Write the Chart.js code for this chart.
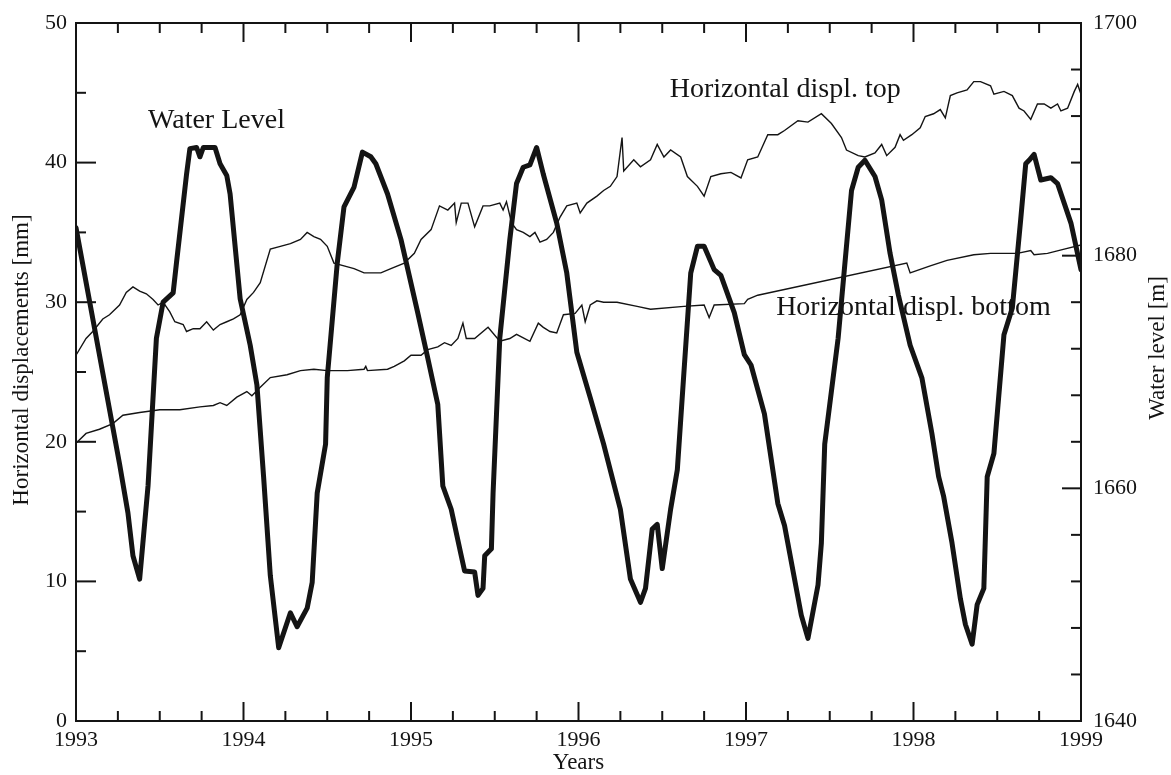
<!DOCTYPE html>
<html>
<head>
<meta charset="utf-8">
<title>Water level and horizontal displacements</title>
<script src="https://cdn.jsdelivr.net/npm/chart.js@4.4.0/dist/chart.umd.min.js"></script>
<style>
  html, body { margin: 0; padding: 0; background: #ffffff; }
  #wrap { width: 1171px; height: 775px; }
</style>
</head>
<body>
<div id="wrap"><canvas id="chart" width="1171" height="775"></canvas></div>
<script>
// Water level (right axis, m)
const wlYears = [1993.00, 1993.26, 1993.31, 1993.34, 1993.38, 1993.43, 1993.48, 1993.52, 1993.58, 1993.60,
  1993.66, 1993.68, 1993.72, 1993.74, 1993.76, 1993.83, 1993.86, 1993.90, 1993.92, 1993.98,
  1994.04, 1994.08, 1994.12, 1994.16, 1994.21, 1994.28, 1994.32, 1994.38, 1994.41, 1994.44,
  1994.49, 1994.50, 1994.56, 1994.60, 1994.66, 1994.71, 1994.76, 1994.79, 1994.86, 1994.94,
  1995.04, 1995.10, 1995.16, 1995.19, 1995.24, 1995.30, 1995.32, 1995.38, 1995.40, 1995.43,
  1995.44, 1995.48, 1995.49, 1995.53, 1995.59, 1995.63, 1995.67, 1995.71, 1995.75, 1995.79,
  1995.87, 1995.93, 1995.99, 1996.07, 1996.15, 1996.25, 1996.31, 1996.37, 1996.40, 1996.44,
  1996.47, 1996.50, 1996.55, 1996.59, 1996.63, 1996.67, 1996.71, 1996.75, 1996.81, 1996.85,
  1996.93, 1996.99, 1997.03, 1997.11, 1997.19, 1997.23, 1997.33, 1997.37, 1997.43, 1997.45,
  1997.47, 1997.55, 1997.63, 1997.67, 1997.71, 1997.77, 1997.81, 1997.86, 1997.91, 1997.98,
  1998.05, 1998.11, 1998.15, 1998.18, 1998.23, 1998.28, 1998.31, 1998.35, 1998.38, 1998.42,
  1998.44, 1998.48, 1998.54, 1998.59, 1998.64, 1998.67, 1998.69, 1998.72, 1998.76, 1998.82,
  1998.86, 1998.94, 1999.00];
const wlLevel = [1682.4, 1662.1, 1657.9, 1654.2, 1652.2, 1660.2, 1672.9, 1676.0, 1676.8, 1679.4,
  1687.0, 1689.2, 1689.3, 1688.5, 1689.3, 1689.3, 1687.9, 1686.9, 1685.3, 1676.3,
  1672.3, 1668.9, 1661.0, 1652.5, 1646.3, 1649.3, 1648.1, 1649.7, 1651.9, 1659.6,
  1663.8, 1669.5, 1679.4, 1684.2, 1685.9, 1688.9, 1688.5, 1687.9, 1685.3, 1681.4,
  1675.1, 1671.2, 1667.2, 1660.2, 1658.2, 1654.2, 1652.9, 1652.8, 1650.8, 1651.4,
  1654.2, 1654.8, 1659.6, 1672.9, 1681.4, 1686.2, 1687.6, 1687.8, 1689.3, 1687.0,
  1682.8, 1678.5, 1671.7, 1667.8, 1663.8, 1658.2, 1652.2, 1650.2, 1651.4, 1656.5,
  1656.9, 1653.1, 1658.2, 1661.6, 1670.1, 1678.5, 1680.8, 1680.8, 1678.8, 1678.3,
  1675.1, 1671.5, 1670.6, 1666.4, 1658.7, 1656.8, 1649.1, 1647.1, 1651.7, 1655.3,
  1663.8, 1672.9, 1685.6, 1687.6, 1688.2, 1686.8, 1684.8, 1680.2, 1676.6, 1672.3,
  1669.5, 1664.7, 1661.0, 1659.3, 1655.3, 1650.5, 1648.3, 1646.6, 1650.0, 1651.4,
  1661.0, 1663.0, 1673.2, 1675.5, 1683.1, 1687.9, 1688.2, 1688.7, 1686.5, 1686.7,
  1686.2, 1682.8, 1678.8];

// Horizontal displacement, top (left axis, mm)
const topYears = [1993.00, 1993.06, 1993.10, 1993.16, 1993.20, 1993.26, 1993.30, 1993.34, 1993.38, 1993.42,
  1993.46, 1993.49, 1993.52, 1993.56, 1993.59, 1993.64, 1993.66, 1993.70, 1993.74, 1993.78,
  1993.82, 1993.86, 1993.90, 1993.94, 1993.98, 1994.02, 1994.06, 1994.10, 1994.16, 1994.22,
  1994.28, 1994.34, 1994.38, 1994.42, 1994.46, 1994.50, 1994.54, 1994.60, 1994.66, 1994.72,
  1994.76, 1994.82, 1994.88, 1994.96, 1995.02, 1995.06, 1995.12, 1995.17, 1995.22, 1995.26,
  1995.27, 1995.30, 1995.34, 1995.38, 1995.43, 1995.47, 1995.53, 1995.55, 1995.57, 1995.60,
  1995.63, 1995.67, 1995.71, 1995.74, 1995.77, 1995.81, 1995.85, 1995.89, 1995.93, 1995.99,
  1996.01, 1996.05, 1996.11, 1996.15, 1996.19, 1996.23, 1996.26, 1996.27, 1996.33, 1996.37,
  1996.43, 1996.47, 1996.51, 1996.55, 1996.61, 1996.65, 1996.71, 1996.75, 1996.79, 1996.85,
  1996.91, 1996.97, 1997.01, 1997.07, 1997.13, 1997.19, 1997.23, 1997.31, 1997.37, 1997.45,
  1997.51, 1997.57, 1997.60, 1997.67, 1997.71, 1997.77, 1997.81, 1997.84, 1997.89, 1997.92,
  1997.94, 1997.99, 1998.04, 1998.07, 1998.12, 1998.16, 1998.19, 1998.22, 1998.26, 1998.32,
  1998.36, 1998.40, 1998.46, 1998.48, 1998.54, 1998.59, 1998.63, 1998.66, 1998.70, 1998.74,
  1998.78, 1998.82, 1998.86, 1998.88, 1998.92, 1998.96, 1998.98, 1999.00];
const topDisp = [26.2, 27.4, 27.9, 28.8, 29.1, 29.8, 30.7, 31.1, 30.8, 30.6,
  30.2, 29.8, 30.0, 29.3, 28.6, 28.4, 27.9, 28.1, 28.1, 28.6,
  28.0, 28.4, 28.6, 28.8, 29.1, 30.2, 30.7, 31.4, 33.8, 34.0,
  34.2, 34.5, 35.0, 34.7, 34.5, 34.0, 32.8, 32.6, 32.4, 32.1,
  32.1, 32.1, 32.4, 32.8, 33.5, 34.5, 35.2, 36.9, 36.6, 37.1,
  35.7, 37.1, 37.1, 35.4, 36.9, 36.9, 37.1, 36.6, 37.2, 35.7,
  35.2, 35.0, 34.7, 35.0, 34.3, 34.5, 35.0, 36.1, 36.9, 37.1,
  36.4, 37.1, 37.6, 38.0, 38.3, 39.0, 41.8, 39.4, 40.2, 39.7,
  40.2, 41.3, 40.4, 40.9, 40.4, 39.0, 38.3, 37.6, 39.0, 39.2,
  39.3, 38.9, 40.2, 40.4, 42.0, 42.0, 42.3, 43.0, 42.9, 43.5,
  42.8, 41.8, 40.9, 40.5, 40.4, 40.7, 41.3, 40.5, 41.1, 42.0,
  41.6, 42.0, 42.5, 43.3, 43.5, 43.8, 43.2, 44.8, 45.0, 45.2,
  45.8, 45.8, 45.5, 44.9, 45.1, 44.8, 43.9, 43.7, 43.1, 44.2,
  44.2, 43.9, 44.2, 43.7, 43.9, 45.1, 45.6, 44.9];

// Horizontal displacement, bottom (left axis, mm)
const botYears = [1993.00, 1993.06, 1993.14, 1993.22, 1993.28, 1993.38, 1993.50, 1993.62, 1993.74, 1993.82,
  1993.86, 1993.90, 1993.96, 1994.02, 1994.05, 1994.10, 1994.16, 1994.26, 1994.34, 1994.42,
  1994.50, 1994.62, 1994.72, 1994.73, 1994.74, 1994.86, 1994.90, 1994.96, 1995.00, 1995.06,
  1995.10, 1995.16, 1995.20, 1995.24, 1995.28, 1995.31, 1995.33, 1995.38, 1995.46, 1995.53,
  1995.59, 1995.63, 1995.71, 1995.76, 1995.79, 1995.83, 1995.87, 1995.91, 1995.98, 1996.02,
  1996.04, 1996.07, 1996.11, 1996.15, 1996.23, 1996.35, 1996.43, 1996.63, 1996.75, 1996.78,
  1996.81, 1996.99, 1997.01, 1997.07, 1997.96, 1997.98, 1998.10, 1998.20, 1998.36, 1998.46,
  1998.62, 1998.70, 1998.72, 1998.80, 1998.90, 1999.00];
const botDisp = [19.9, 20.6, 20.9, 21.3, 21.9, 22.1, 22.3, 22.3, 22.5, 22.6,
  22.8, 22.6, 23.2, 23.6, 23.3, 23.9, 24.6, 24.8, 25.1, 25.2,
  25.1, 25.1, 25.2, 25.4, 25.1, 25.2, 25.4, 25.8, 26.2, 26.2,
  26.6, 26.8, 27.1, 26.9, 27.4, 28.5, 27.4, 27.4, 28.2, 27.2,
  27.4, 27.7, 27.2, 28.5, 28.2, 27.9, 27.8, 29.1, 29.2, 29.8,
  28.6, 29.8, 30.1, 30.0, 30.0, 29.7, 29.5, 29.7, 29.8, 28.9,
  29.8, 29.9, 30.2, 30.5, 32.8, 32.1, 32.6, 33.0, 33.4, 33.5,
  33.5, 33.7, 33.4, 33.5, 33.8, 34.1];

// Axis ticks
const yearTicks = [1993, 1994, 1995, 1996, 1997, 1998, 1999];
const dispTicks = [0, 10, 20, 30, 40, 50];
const levelTicks = [1640, 1650, 1660, 1670, 1680, 1690, 1700];

// Curve labels: [text, year, mm]
const curveLabels = [
  ['Water Level', 1993.43, 43.0],
  ['Horizontal displ. top', 1996.545, 45.2],
  ['Horizontal displ. bottom', 1997.18, 29.6]
];

const ink = '#141414';
const serif = "'Liberation Serif', 'DejaVu Serif', serif";

function zip(xs, ys) {
  return xs.map((x, i) => ({ x: x, y: ys[i] }));
}

// frame, inward ticks, axis titles and curve labels
const decorations = {
  id: 'decorations',
  afterDraw(chart) {
    const { ctx, chartArea: a, scales } = chart;
    ctx.save();
    ctx.strokeStyle = ink;
    ctx.lineWidth = 2;
    ctx.lineCap = 'butt';
    ctx.strokeRect(a.left, a.top, a.right - a.left, a.bottom - a.top);

    function seg(x1, y1, x2, y2) {
      ctx.beginPath();
      ctx.moveTo(x1, y1);
      ctx.lineTo(x2, y2);
      ctx.stroke();
    }

    scales.x.ticks.forEach(t => {
      const px = scales.x.getPixelForValue(t.value);
      const len = yearTicks.includes(t.value) ? 19 : 10;
      seg(px, a.bottom, px, a.bottom - len);
      seg(px, a.top, px, a.top + len);
    });
    scales.y.ticks.forEach(t => {
      const py = scales.y.getPixelForValue(t.value);
      const len = dispTicks.includes(t.value) ? 20 : 10;
      seg(a.left, py, a.left + len, py);
    });
    scales.y2.ticks.forEach(t => {
      const py = scales.y2.getPixelForValue(t.value);
      const len = levelTicks.includes(t.value) ? 19 : 10;
      seg(a.right, py, a.right - len, py);
    });

    ctx.fillStyle = ink;
    ctx.textBaseline = 'middle';

    // axis titles
    ctx.font = '23px ' + serif;
    ctx.textAlign = 'center';
    ctx.fillText('Years', (a.left + a.right) / 2, 763);

    ctx.save();
    ctx.translate(22, 360);
    ctx.rotate(-Math.PI / 2);
    ctx.fillText('Horizontal displacements [mm]', 0, 0);
    ctx.restore();

    ctx.save();
    ctx.translate(1158, 348);
    ctx.rotate(-Math.PI / 2);
    ctx.fillText('Water level [m]', 0, 0);
    ctx.restore();

    // curve labels
    ctx.font = '28px ' + serif;
    ctx.textAlign = 'left';
    curveLabels.forEach(([text, yr, mm]) => {
      ctx.fillText(text, scales.x.getPixelForValue(yr), scales.y.getPixelForValue(mm));
    });
    ctx.restore();
  }
};

const tickFont = { family: serif, size: 22, lineHeight: 1 };

new Chart(document.getElementById('chart'), {
  type: 'line',
  data: {
    datasets: [
      {
        label: 'Water Level',
        data: zip(wlYears, wlLevel),
        yAxisID: 'y2',
        borderColor: ink,
        borderWidth: 5,
        borderJoinStyle: 'round',
        borderCapStyle: 'round',
        pointRadius: 0,
        tension: 0,
        fill: false
      },
      {
        label: 'Horizontal displ. top',
        data: zip(topYears, topDisp),
        yAxisID: 'y',
        borderColor: ink,
        borderWidth: 1.4,
        pointRadius: 0,
        tension: 0,
        fill: false
      },
      {
        label: 'Horizontal displ. bottom',
        data: zip(botYears, botDisp),
        yAxisID: 'y',
        borderColor: ink,
        borderWidth: 1.4,
        pointRadius: 0,
        tension: 0,
        fill: false
      }
    ]
  },
  options: {
    responsive: false,
    animation: false,
    devicePixelRatio: 1,
    layout: { padding: { top: 14, left: 0, right: 0, bottom: 0 } },
    plugins: {
      legend: { display: false },
      tooltip: { enabled: false },
      title: { display: false }
    },
    scales: {
      x: {
        type: 'linear',
        position: 'bottom',
        min: 1993,
        max: 1999,
        grid: { display: false, drawTicks: false },
        border: { display: false },
        ticks: {
          stepSize: 0.25,
          autoSkip: false,
          maxRotation: 0,
          padding: 8,
          color: ink,
          font: tickFont,
          callback: v => yearTicks.includes(v) ? String(v) : ''
        },
        afterFit: s => { s.height = 54; }
      },
      y: {
        type: 'linear',
        position: 'left',
        min: 0,
        max: 50,
        grid: { display: false, drawTicks: false },
        border: { display: false },
        ticks: {
          stepSize: 5,
          padding: 9,
          color: ink,
          font: tickFont,
          callback: v => dispTicks.includes(v) ? String(v) : ''
        },
        afterFit: s => { s.width = 76; }
      },
      y2: {
        type: 'linear',
        position: 'right',
        min: 1640,
        max: 1700,
        grid: { display: false, drawTicks: false },
        border: { display: false },
        ticks: {
          stepSize: 2,
          padding: 12,
          color: ink,
          font: tickFont,
          callback: v => levelTicks.includes(v) ? String(v) : ''
        },
        afterFit: s => { s.width = 90; }
      }
    }
  },
  plugins: [decorations]
});
</script>
</body>
</html>
